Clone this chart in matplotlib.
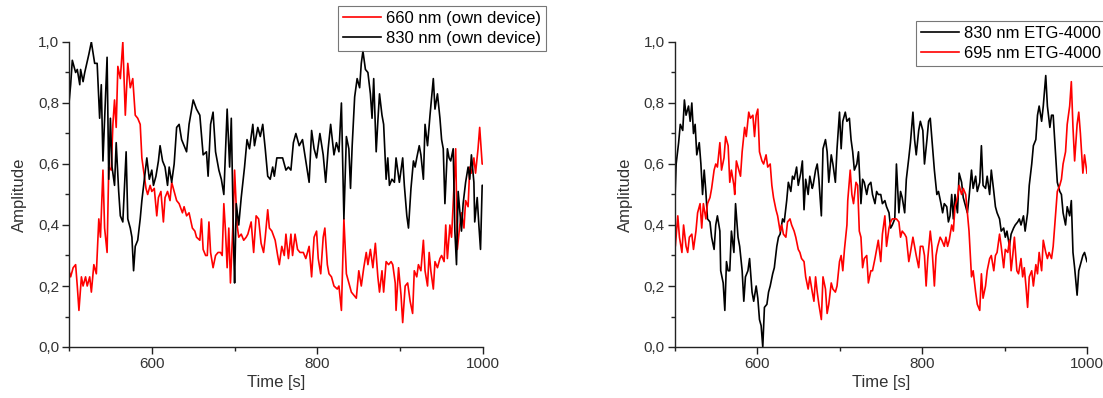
import matplotlib
matplotlib.use("Agg")
import matplotlib.pyplot as plt
from matplotlib.ticker import MultipleLocator, FuncFormatter

plt.rcParams['font.family'] = ['Liberation Sans', 'DejaVu Sans']

# ---------------- data: left panel (own device) ----------------
t_830_own = [500, 502, 504, 508, 510, 513, 514, 517, 519, 524, 527, 531, 534, 537, 539, 541, 546, 548, 550,
             552, 555, 557, 560, 562, 565, 569, 571, 574, 576, 578, 580, 583, 586, 588, 591, 594, 597, 600,
             602, 605, 608, 610, 613, 616, 619, 621, 624, 627, 630, 633, 636, 639, 642, 645, 650, 654, 658,
             662, 666, 668, 671, 674, 677, 681, 684, 687, 691, 694, 696, 699, 700, 702, 705, 708, 712, 715,
             718, 722, 724, 728, 731, 734, 737, 740, 743, 746, 748, 751, 755, 758, 762, 765, 768, 771, 774,
             778, 782, 786, 790, 793, 796, 799, 803, 807, 810, 813, 816, 820, 823, 826, 829, 832, 835, 838,
             840, 842, 845, 848, 851, 853, 855, 858, 861, 864, 866, 868, 871, 873, 875, 878, 880, 883, 885,
             887, 890, 893, 895, 899, 903, 905, 908, 910, 913, 916, 918, 920, 923, 925, 928, 930, 933, 936,
             938, 940, 942, 945, 948, 950, 952, 954, 957, 959, 961, 964, 966, 968, 970, 974, 976, 979, 982,
             984, 986, 989, 990, 993, 995, 997, 999, 1000]
a_830_own = [0.80, 0.86, 0.94, 0.90, 0.91, 0.86, 0.91, 0.87, 0.90, 0.96, 1.00, 0.93, 0.93, 0.75, 0.86, 0.61,
             0.95, 0.55, 0.75, 0.59, 0.53, 0.67, 0.51, 0.43, 0.41, 0.64, 0.42, 0.39, 0.36, 0.25, 0.33, 0.35,
             0.42, 0.48, 0.55, 0.62, 0.55, 0.58, 0.53, 0.56, 0.61, 0.66, 0.61, 0.59, 0.53, 0.59, 0.54, 0.60,
             0.72, 0.73, 0.68, 0.66, 0.64, 0.73, 0.81, 0.78, 0.76, 0.63, 0.64, 0.56, 0.73, 0.77, 0.64, 0.58,
             0.55, 0.50, 0.78, 0.59, 0.75, 0.31, 0.21, 0.47, 0.40, 0.49, 0.59, 0.68, 0.65, 0.73, 0.66, 0.72,
             0.69, 0.73, 0.65, 0.56, 0.55, 0.59, 0.56, 0.62, 0.62, 0.62, 0.58, 0.59, 0.58, 0.67, 0.70, 0.66,
             0.68, 0.61, 0.54, 0.71, 0.65, 0.62, 0.70, 0.63, 0.54, 0.65, 0.73, 0.63, 0.67, 0.64, 0.80, 0.42,
             0.69, 0.65, 0.52, 0.66, 0.82, 0.88, 0.85, 0.93, 0.97, 0.91, 0.90, 0.83, 0.75, 0.88, 0.64, 0.74,
             0.83, 0.76, 0.73, 0.55, 0.62, 0.53, 0.55, 0.54, 0.62, 0.54, 0.62, 0.53, 0.43, 0.39, 0.52, 0.61,
             0.59, 0.62, 0.66, 0.63, 0.55, 0.73, 0.66, 0.76, 0.82, 0.88, 0.78, 0.83, 0.75, 0.68, 0.65, 0.47,
             0.65, 0.62, 0.61, 0.65, 0.38, 0.27, 0.51, 0.38, 0.47, 0.54, 0.59, 0.55, 0.63, 0.54, 0.41, 0.49,
             0.40, 0.32, 0.53, 0.53]

t_660_own = [500, 502, 505, 508, 510, 512, 515, 517, 520, 522, 525, 527, 530, 533, 536, 538, 541, 543, 546,
             548, 551, 553, 555, 557, 559, 562, 565, 568, 571, 574, 577, 580, 583, 586, 588, 591, 593, 595,
             598, 600, 603, 606, 608, 611, 614, 616, 619, 622, 624, 627, 630, 633, 637, 639, 642, 645, 649,
             652, 654, 658, 660, 662, 665, 667, 669, 671, 674, 677, 680, 683, 685, 687, 689, 691, 693, 695,
             698, 700, 703, 705, 708, 711, 714, 716, 720, 723, 726, 729, 732, 735, 737, 740, 742, 745, 749,
             752, 754, 757, 760, 762, 765, 768, 770, 773, 776, 779, 783, 786, 790, 793, 796, 799, 801, 804,
             807, 809, 812, 814, 817, 820, 824, 826, 829, 832, 835, 838, 841, 844, 847, 850, 853, 856, 859,
             861, 864, 867, 870, 873, 875, 878, 880, 883, 886, 889, 891, 894, 895, 898, 901, 903, 906, 909,
             912, 915, 917, 920, 922, 925, 928, 930, 933, 935, 937, 940, 942, 945, 948, 950, 953, 955, 957,
             960, 962, 964, 967, 969, 972, 974, 977, 979, 982, 984, 986, 989, 991, 994, 996, 999, 1000]
a_660_own = [0.25, 0.23, 0.26, 0.27, 0.20, 0.12, 0.23, 0.20, 0.23, 0.20, 0.23, 0.18, 0.27, 0.24, 0.42, 0.36,
             0.58, 0.39, 0.31, 0.59, 0.58, 0.73, 0.81, 0.72, 0.92, 0.88, 1.00, 0.76, 0.93, 0.85, 0.88, 0.76,
             0.75, 0.73, 0.62, 0.56, 0.52, 0.50, 0.53, 0.51, 0.52, 0.43, 0.49, 0.51, 0.41, 0.49, 0.51, 0.48,
             0.54, 0.51, 0.48, 0.47, 0.44, 0.46, 0.43, 0.44, 0.39, 0.38, 0.36, 0.35, 0.42, 0.32, 0.30, 0.30,
             0.41, 0.31, 0.26, 0.30, 0.31, 0.31, 0.30, 0.47, 0.38, 0.26, 0.39, 0.21, 0.40, 0.58, 0.40, 0.36,
             0.37, 0.35, 0.36, 0.37, 0.41, 0.31, 0.43, 0.42, 0.34, 0.31, 0.36, 0.45, 0.39, 0.38, 0.35, 0.30,
             0.27, 0.33, 0.30, 0.37, 0.29, 0.37, 0.30, 0.37, 0.32, 0.31, 0.31, 0.29, 0.33, 0.23, 0.36, 0.38,
             0.29, 0.24, 0.36, 0.39, 0.27, 0.24, 0.23, 0.20, 0.19, 0.20, 0.12, 0.42, 0.24, 0.21, 0.18, 0.17,
             0.16, 0.25, 0.20, 0.26, 0.31, 0.27, 0.32, 0.26, 0.34, 0.23, 0.18, 0.25, 0.18, 0.28, 0.27, 0.28,
             0.27, 0.21, 0.12, 0.26, 0.17, 0.08, 0.20, 0.21, 0.15, 0.11, 0.25, 0.23, 0.27, 0.25, 0.35, 0.25,
             0.20, 0.31, 0.25, 0.19, 0.28, 0.26, 0.29, 0.30, 0.28, 0.40, 0.29, 0.40, 0.36, 0.47, 0.65, 0.32,
             0.40, 0.44, 0.39, 0.48, 0.46, 0.59, 0.57, 0.62, 0.57, 0.65, 0.72, 0.60, 0.60]

# ---------------- data: right panel (ETG-4000) ----------------
t_830_etg = [500, 502, 505, 507, 510, 512, 514, 517, 519, 521, 523, 525, 527, 530, 532, 534, 536, 538, 540,
             543, 545, 548, 550, 552, 555, 556, 559, 561, 563, 565, 567, 569, 572, 574, 577, 579, 582, 584,
             586, 589, 591, 594, 596, 599, 601, 603, 605, 607, 609, 612, 614, 616, 619, 621, 624, 626, 628,
             631, 633, 636, 638, 641, 643, 645, 648, 650, 653, 655, 657, 659, 662, 664, 667, 668, 671, 673,
             675, 678, 680, 683, 685, 687, 690, 692, 695, 697, 700, 702, 704, 707, 709, 712, 714, 716, 718,
             721, 723, 726, 728, 730, 733, 735, 738, 740, 743, 745, 747, 750, 752, 755, 757, 760, 762, 764,
             767, 769, 772, 774, 776, 779, 781, 784, 786, 789, 791, 793, 796, 798, 801, 803, 806, 808, 810,
             813, 815, 818, 820, 823, 825, 827, 830, 832, 834, 836, 838, 840, 843, 845, 848, 850, 853, 855,
             857, 860, 862, 865, 867, 870, 872, 874, 877, 879, 882, 884, 887, 889, 891, 894, 896, 899, 901,
             903, 906, 908, 911, 913, 916, 918, 920, 923, 925, 928, 930, 933, 935, 938, 940, 942, 945, 947,
             950, 952, 955, 957, 959, 962, 964, 967, 969, 971, 974, 976, 979, 981, 983, 985, 988, 990, 992,
             995, 997, 1000]
a_830_etg = [0.44, 0.60, 0.67, 0.73, 0.71, 0.81, 0.76, 0.79, 0.74, 0.80, 0.70, 0.73, 0.63, 0.67, 0.60, 0.50,
             0.58, 0.51, 0.42, 0.41, 0.36, 0.32, 0.40, 0.43, 0.38, 0.25, 0.21, 0.12, 0.28, 0.25, 0.25, 0.38,
             0.31, 0.47, 0.36, 0.33, 0.25, 0.15, 0.23, 0.25, 0.29, 0.18, 0.15, 0.20, 0.16, 0.09, 0.07, 0.00,
             0.13, 0.14, 0.18, 0.20, 0.24, 0.26, 0.33, 0.36, 0.37, 0.42, 0.41, 0.48, 0.54, 0.51, 0.56, 0.55,
             0.59, 0.53, 0.57, 0.61, 0.45, 0.55, 0.50, 0.56, 0.52, 0.53, 0.58, 0.60, 0.55, 0.43, 0.65, 0.68,
             0.64, 0.54, 0.63, 0.60, 0.54, 0.65, 0.77, 0.65, 0.74, 0.77, 0.74, 0.75, 0.68, 0.64, 0.58, 0.60,
             0.64, 0.47, 0.55, 0.54, 0.50, 0.53, 0.54, 0.50, 0.47, 0.51, 0.50, 0.50, 0.47, 0.48, 0.46, 0.44,
             0.39, 0.40, 0.42, 0.60, 0.44, 0.51, 0.49, 0.44, 0.55, 0.62, 0.67, 0.77, 0.68, 0.63, 0.71, 0.74,
             0.71, 0.60, 0.68, 0.74, 0.75, 0.65, 0.58, 0.50, 0.51, 0.47, 0.44, 0.47, 0.46, 0.41, 0.43, 0.50,
             0.42, 0.50, 0.44, 0.57, 0.54, 0.49, 0.46, 0.44, 0.49, 0.58, 0.52, 0.56, 0.51, 0.54, 0.66, 0.53,
             0.52, 0.56, 0.50, 0.58, 0.51, 0.46, 0.44, 0.42, 0.38, 0.39, 0.36, 0.38, 0.33, 0.37, 0.39, 0.40,
             0.41, 0.42, 0.40, 0.43, 0.38, 0.44, 0.53, 0.60, 0.66, 0.68, 0.76, 0.79, 0.74, 0.79, 0.89, 0.79,
             0.72, 0.76, 0.76, 0.63, 0.54, 0.51, 0.50, 0.44, 0.40, 0.46, 0.43, 0.48, 0.31, 0.26, 0.17, 0.25,
             0.27, 0.30, 0.31, 0.28]

t_695_etg = [500, 501, 504, 506, 509, 511, 514, 516, 518, 521, 523, 526, 528, 531, 533, 535, 538, 540, 543,
             545, 548, 550, 552, 555, 557, 560, 562, 565, 567, 569, 572, 573, 575, 577, 580, 582, 585, 587,
             590, 592, 595, 597, 599, 601, 603, 606, 608, 611, 613, 616, 618, 620, 623, 625, 628, 630, 632,
             635, 637, 640, 642, 645, 647, 650, 652, 654, 657, 659, 662, 664, 667, 669, 671, 673, 675, 678,
             680, 683, 685, 687, 690, 692, 695, 697, 700, 702, 704, 706, 709, 710, 713, 715, 717, 720, 722,
             724, 726, 728, 730, 733, 735, 738, 740, 743, 745, 747, 750, 752, 755, 757, 760, 762, 764, 767,
             769, 772, 774, 776, 779, 781, 784, 786, 789, 791, 793, 796, 798, 801, 803, 805, 807, 810, 812,
             815, 817, 819, 822, 824, 827, 829, 831, 833, 836, 838, 840, 843, 845, 848, 850, 853, 855, 857,
             860, 862, 865, 867, 870, 872, 874, 877, 879, 882, 884, 887, 889, 891, 894, 896, 899, 901, 904,
             906, 908, 910, 912, 915, 917, 920, 922, 924, 926, 928, 930, 933, 935, 938, 940, 942, 945, 947,
             950, 952, 954, 957, 959, 962, 964, 967, 969, 971, 974, 976, 979, 981, 983, 985, 988, 990, 992,
             995, 997, 1000]
a_695_etg = [0.40, 0.33, 0.43, 0.36, 0.31, 0.40, 0.33, 0.31, 0.36, 0.37, 0.32, 0.38, 0.44, 0.47, 0.39, 0.47,
             0.42, 0.47, 0.49, 0.52, 0.58, 0.60, 0.59, 0.67, 0.58, 0.62, 0.69, 0.66, 0.54, 0.58, 0.53, 0.50,
             0.61, 0.59, 0.56, 0.64, 0.72, 0.69, 0.77, 0.75, 0.76, 0.69, 0.76, 0.78, 0.64, 0.61, 0.60, 0.63,
             0.59, 0.60, 0.53, 0.49, 0.45, 0.43, 0.38, 0.40, 0.37, 0.36, 0.41, 0.42, 0.40, 0.38, 0.36, 0.32,
             0.31, 0.29, 0.28, 0.23, 0.19, 0.23, 0.18, 0.15, 0.23, 0.18, 0.14, 0.09, 0.23, 0.19, 0.11, 0.14,
             0.21, 0.19, 0.18, 0.20, 0.28, 0.30, 0.25, 0.32, 0.40, 0.48, 0.58, 0.50, 0.47, 0.54, 0.53, 0.38,
             0.36, 0.26, 0.29, 0.30, 0.21, 0.25, 0.25, 0.29, 0.32, 0.35, 0.28, 0.37, 0.43, 0.33, 0.39, 0.41,
             0.42, 0.42, 0.42, 0.41, 0.36, 0.38, 0.37, 0.36, 0.28, 0.31, 0.36, 0.33, 0.30, 0.26, 0.33, 0.33,
             0.30, 0.20, 0.29, 0.38, 0.33, 0.20, 0.30, 0.33, 0.36, 0.35, 0.33, 0.36, 0.33, 0.35, 0.40, 0.38,
             0.46, 0.49, 0.53, 0.50, 0.52, 0.50, 0.44, 0.38, 0.23, 0.25, 0.18, 0.14, 0.12, 0.24, 0.16, 0.20,
             0.25, 0.29, 0.30, 0.25, 0.30, 0.31, 0.37, 0.33, 0.26, 0.32, 0.31, 0.35, 0.25, 0.30, 0.36, 0.25,
             0.24, 0.29, 0.23, 0.26, 0.20, 0.13, 0.23, 0.25, 0.20, 0.27, 0.24, 0.31, 0.25, 0.35, 0.31, 0.29,
             0.31, 0.29, 0.33, 0.44, 0.51, 0.53, 0.55, 0.60, 0.64, 0.73, 0.79, 0.87, 0.72, 0.61, 0.73, 0.77,
             0.70, 0.57, 0.63, 0.57]

x_ticks = [600, 800, 1000]
y_ticks = [0.0, 0.2, 0.4, 0.6, 0.8, 1.0]

# ---------------- figure ----------------
W, H = 1103, 398
fig = plt.figure(figsize=(W / 100, H / 100), dpi=100)
fig.patch.set_facecolor('white')

ax1 = fig.add_axes([69 / W, (H - 347) / H, (483 - 69) / W, (347 - 42) / H])
ax2 = fig.add_axes([674.5 / W, (H - 347) / H, (1087 - 674.5) / W, (347 - 42) / H])

comma = FuncFormatter(lambda v, p: f"{v:.1f}".replace('.', ','))

def style(ax):
    ax.set_xlim(500, 1000)
    ax.set_ylim(0, 1.0)
    ax.set_xticks(x_ticks)
    ax.set_yticks(y_ticks)
    ax.xaxis.set_minor_locator(MultipleLocator(100))
    ax.yaxis.set_minor_locator(MultipleLocator(0.1))
    ax.yaxis.set_major_formatter(comma)
    for s in ('top', 'right'):
        ax.spines[s].set_visible(False)
    for s in ('left', 'bottom'):
        ax.spines[s].set_linewidth(1.0)
        ax.spines[s].set_color('#222222')
    ax.tick_params(which='major', direction='out', length=5, width=1.0, labelsize=11,
                   colors='#222222', labelcolor='#333333', pad=2)
    ax.tick_params(which='minor', direction='out', length=3, width=1.0, colors='#222222')
    ax.set_xlabel('Time [s]', fontsize=12, color='#333333', labelpad=3)
    ax.set_ylabel('Amplitude', fontsize=12, color='#333333', labelpad=8)

LW = 1.2
ax1.plot(t_660_own, a_660_own, color='#ff0000', lw=LW, label='660 nm (own device)')
ax1.plot(t_830_own, a_830_own, color='#000000', lw=LW, label='830 nm (own device)')
style(ax1)
leg1 = ax1.legend(loc='upper left', bbox_to_anchor=((338 - 69) / 414, (347 - 6) / 305),
                  fontsize=12, frameon=True, fancybox=False, borderaxespad=0, borderpad=0.3,
                  labelspacing=0.32, handlelength=2.3, handletextpad=0.3)
leg1.get_frame().set_edgecolor('#555555')
leg1.get_frame().set_linewidth(0.8)

ax2.plot(t_830_etg, a_830_etg, color='#000000', lw=LW, label='830 nm ETG-4000')
ax2.plot(t_695_etg, a_695_etg, color='#ff0000', lw=LW, label='695 nm ETG-4000')
style(ax2)
leg2 = ax2.legend(loc='upper left', bbox_to_anchor=((915.7 - 674.5) / 412.5, (347 - 21) / 305),
                  fontsize=12, frameon=True, fancybox=False, borderaxespad=0, borderpad=0.3,
                  labelspacing=0.32, handlelength=2.3, handletextpad=0.3)
leg2.get_frame().set_edgecolor('#555555')
leg2.get_frame().set_linewidth(0.8)

fig.savefig('out.png', dpi=100, facecolor='white')
